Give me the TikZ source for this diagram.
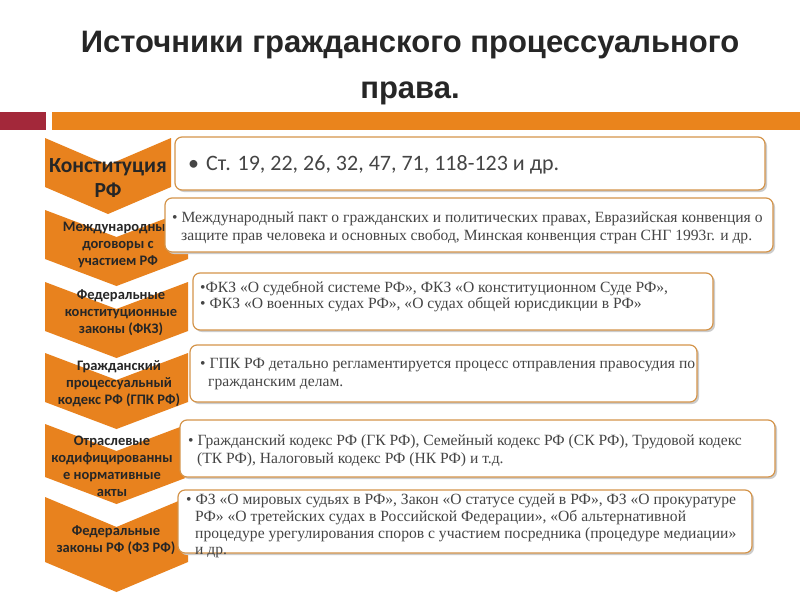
\documentclass[tikz,border=0pt]{standalone}
\usepackage{fontspec}
\setmainfont{Liberation Serif}
\newfontfamily\calf{Carlito}
\newfontfamily\titlef{Liberation Sans}
\definecolor{chev}{HTML}{E8821E}
\definecolor{barorange}{HTML}{EA841C}
\definecolor{barred}{HTML}{A3283A}
\definecolor{boxline}{HTML}{D4944A}
\definecolor{txt}{HTML}{454545}
\tikzset{
  chevfill/.style={fill=chev},
  srcbox/.style={draw=boxline, line width=1.2pt, fill=white, rounded corners=7pt},
  boxshadow/.style={fill=black!20, rounded corners=7pt},
  chevtext/.style={font=\calf\bfseries\fontsize{14.5}{17}\selectfont, text=black!85, align=center, inner sep=0pt},
  boxtext/.style={font=\fontsize{15.6}{17}\selectfont, text=txt, anchor=base west, inner sep=0pt},
  titletext/.style={font=\titlef\bfseries\fontsize{31}{34}\selectfont, text=black!85, anchor=base, inner sep=0pt},
}
\newcommand{\chevshape}[5]{% left, right, top, sidebottom, depth
  \fill[chevfill] (#1,#3) -- ({(#1+#2)/2},{#3+#5}) -- (#2,#3) -- (#2,#4) -- ({(#1+#2)/2},{#4+#5}) -- (#1,#4) -- cycle;}
\newcommand{\srcrect}[4]{%
  \fill[boxshadow] (#1+2,#2+2) rectangle (#3+2,#4+2);
  \draw[srcbox] (#1,#2) rectangle (#3,#4);}
\begin{document}
\begin{tikzpicture}[x=1pt,y=-1pt]
\useasboundingbox (0,0) rectangle (800,600);
\fill[white] (0,0) rectangle (800,600);
% title
\node[titletext] (t1) at (410,52) {Источники гражданского процессуального};
\node[titletext] (t2) at (410,98) {права.};
% bars
\fill[barred] (0,112) rectangle (46,130);
\fill[barorange] (52,112) rectangle (800,130);
% chevrons
\chevshape{45}{171}{138}{187}{27}
\chevshape{45}{188}{210}{259}{27}
\chevshape{45}{188}{282}{331}{27}
\chevshape{45}{188}{353}{402}{27}
\chevshape{45}{188}{424}{477}{27}
\chevshape{45}{188}{497}{562}{30}
% chevron texts
\node[chevtext, font=\calf\bfseries\fontsize{21.5}{25}\selectfont] (c1) at (108,178) {Конституция\\РФ};
\node[chevtext] (c2) at (118,245) {Международные\\договоры с\\участием РФ};
\node[chevtext] (c3) at (121,313) {Федеральные\\конституционные\\законы (ФКЗ)};
\node[chevtext] (c4) at (119,384) {Гражданский\\процессуальный\\кодекс РФ (ГПК РФ)};
\node[chevtext] (c5) at (112,466) {Отраслевые\\кодифицированны\\е нормативные\\акты};
\node[chevtext] (c6) at (116,540) {Федеральные\\законы РФ (ФЗ РФ)};
% boxes
\srcrect{175}{137}{765}{190}
\srcrect{165}{198}{773}{252}
\srcrect{193}{273}{713}{330}
\srcrect{190}{345}{697}{402}
\srcrect{180}{420}{775}{477}
\srcrect{178}{490}{752}{553}
% box texts
\node[boxtext, font=\calf\fontsize{22}{25}\selectfont] (b1) at (188,170) {•\hspace{7pt}Ст. 19, 22, 26, 32, 47, 71, 118-123 и др.};
\node[boxtext] (b2a) at (172,222) {• Международный пакт о гражданских и политических правах, Евразийская конвенция о};
\node[boxtext] (b2b) at (181,240) {защите прав человека и основных свобод, Минская конвенция стран СНГ 1993г. и др.};
\node[boxtext] (b3a) at (200,292) {•ФКЗ «О судебной системе РФ», ФКЗ «О конституционном Суде РФ»,};
\node[boxtext] (b3b) at (200,308) {• ФКЗ «О военных судах РФ», «О судах общей юрисдикции в РФ»};
\node[boxtext] (b4a) at (200,368) {• ГПК РФ детально регламентируется процесс отправления правосудия по};
\node[boxtext] (b4b) at (208,386) {гражданским делам.};
\node[boxtext] (b5a) at (188,445) {• Гражданский кодекс РФ (ГК РФ), Семейный кодекс РФ (СК РФ), Трудовой кодекс};
\node[boxtext] (b5b) at (197,463) {(ТК РФ), Налоговый кодекс РФ (НК РФ) и т.д.};
\node[boxtext] (b6a) at (186,504) {• ФЗ «О мировых судьях в РФ», Закон «О статусе судей в РФ», ФЗ «О прокуратуре};
\node[boxtext] (b6b) at (195,521) {РФ» «О третейских судах в Российской Федерации», «Об альтернативной};
\node[boxtext] (b6c) at (195,538) {процедуре урегулирования споров с участием посредника (процедуре медиации»};
\node[boxtext] (b6d) at (195,554) {и др.};
\end{tikzpicture}
\end{document}
